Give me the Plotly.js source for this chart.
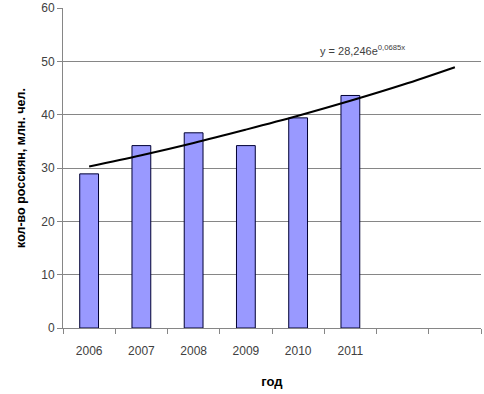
<!DOCTYPE html>
<html><head><meta charset="utf-8">
<script src="https://cdn.plot.ly/plotly-3.0.1.min.js"></script>
<style>html,body{margin:0;padding:0;background:#fff}#c{width:484px;height:394px}</style>
</head><body><div id="c"></div>
<script>
var categories = ["2006","2007","2008","2009","2010","2011","2012","2013"];
var tickLabels = ["2006","2007","2008","2009","2010","2011","",""];
var years = ["2006","2007","2008","2009","2010","2011"];
var russians = [28.9, 34.2, 36.6, 34.2, 39.4, 43.6];
var trendValues = [30.3, 32.4, 34.7, 37.2, 39.8, 42.6, 45.6, 48.9];
var trendLabel = "y = 28,246e<sup>0,0685x</sup>";

var traces = [
  {type:"bar", x:years, y:russians, width:0.36,
   marker:{color:"#9999ff", line:{color:"#000033", width:1}}, hoverinfo:"skip"},
  {type:"scatter", mode:"lines", x:categories, y:trendValues,
   line:{color:"#000000", width:2, shape:"spline"}, hoverinfo:"skip"}
];
var layout = {
  width:484, height:394, showlegend:false,
  paper_bgcolor:"#fff", plot_bgcolor:"#fff",
  margin:{l:63, r:3, t:8, b:66},
  font:{family:"Liberation Sans, Arial, sans-serif", size:11, color:"#404040"},
  xaxis:{type:"category", categoryorder:"array", categoryarray:categories,
    tickmode:"array", tickvals:categories, ticktext:tickLabels,
    tickson:"boundaries", ticks:"outside", ticklen:5, tickcolor:"#868686",
    ticklabelstandoff:12,
    showline:true, linecolor:"#868686", linewidth:1, showgrid:false, zeroline:false,
    range:[-0.5,7.5], tickfont:{size:12, color:"#404040"},
    title:{text:"<b>год</b>", font:{size:13, color:"#000"}, standoff:19}},
  yaxis:{range:[0,60], tickvals:[0,10,20,30,40,50,60], ticks:"outside", ticklen:5,
    tickcolor:"#868686", showline:true, linecolor:"#868686", linewidth:1,
    showgrid:true, gridcolor:"#868686", gridwidth:1, zeroline:false,
    tickfont:{size:12, color:"#404040"},
    title:{text:"<b>кол-во россиян, млн. чел.</b>", font:{size:12.5, color:"#000"}, standoff:12}},
  annotations:[{text:trendLabel, xref:"paper", yref:"paper", x:0.61, y:0.84,
    xanchor:"left", yanchor:"bottom", showarrow:false, font:{size:11, color:"#404040"}}]
};
Plotly.newPlot("c", traces, layout, {displayModeBar:false, staticPlot:true});
</script></body></html>
